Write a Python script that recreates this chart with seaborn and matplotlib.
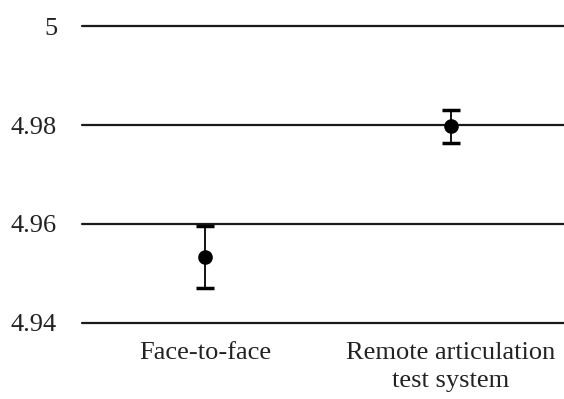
import numpy as np
import pandas as pd
import matplotlib
matplotlib.use("Agg")
import matplotlib.pyplot as plt
import seaborn as sns

# Values
conditions = ["Face-to-face", "Remote articulation\ntest system"]
means = [4.9533, 4.9797]
errors = [0.0062, 0.0033]
y_ticks = [4.94, 4.96, 4.98, 5.0]
y_tick_labels = ["4.94", "4.96", "4.98", "5"]

sns.set_style("white")
plt.rcParams["font.family"] = ["Liberation Serif", "DejaVu Serif"]

df = pd.DataFrame({"condition": conditions, "score": means})

fig = plt.figure(figsize=(5.64, 3.99), dpi=100)
ax = fig.add_axes([0.1454, 0.1905, 0.872, 0.7443])

# horizontal gridlines like the original (not clipped at the edges)
for t in y_ticks:
    ax.axhline(t, color="#1a1a1a", lw=1.6, zorder=1, clip_on=False)

sns.pointplot(data=df, x="condition", y="score", errorbar=None, linestyle="none",
              color="black", markers="o", markersize=8.5, ax=ax, zorder=3)
ax.errorbar(np.arange(len(conditions)), means, yerr=errors, fmt="none",
            ecolor="black", elinewidth=1.3, capsize=6.5, capthick=2.5, zorder=2)

ax.set_xlim(-0.5, 1.5)
ax.set_ylim(4.94, 5.0)
ax.set_yticks(y_ticks)
ax.set_yticklabels(y_tick_labels)
ax.set_xticks(range(len(conditions)))
ax.set_xticklabels(conditions, linespacing=1.35)
ax.tick_params(axis="y", length=0, pad=18, labelsize=19, colors="#222222")
ax.tick_params(axis="x", length=0, pad=14, labelsize=19, colors="#222222")
ax.set_xlabel("")
ax.set_ylabel("")
for s in ax.spines.values():
    s.set_visible(False)

fig.savefig("out.png", dpi=100)
